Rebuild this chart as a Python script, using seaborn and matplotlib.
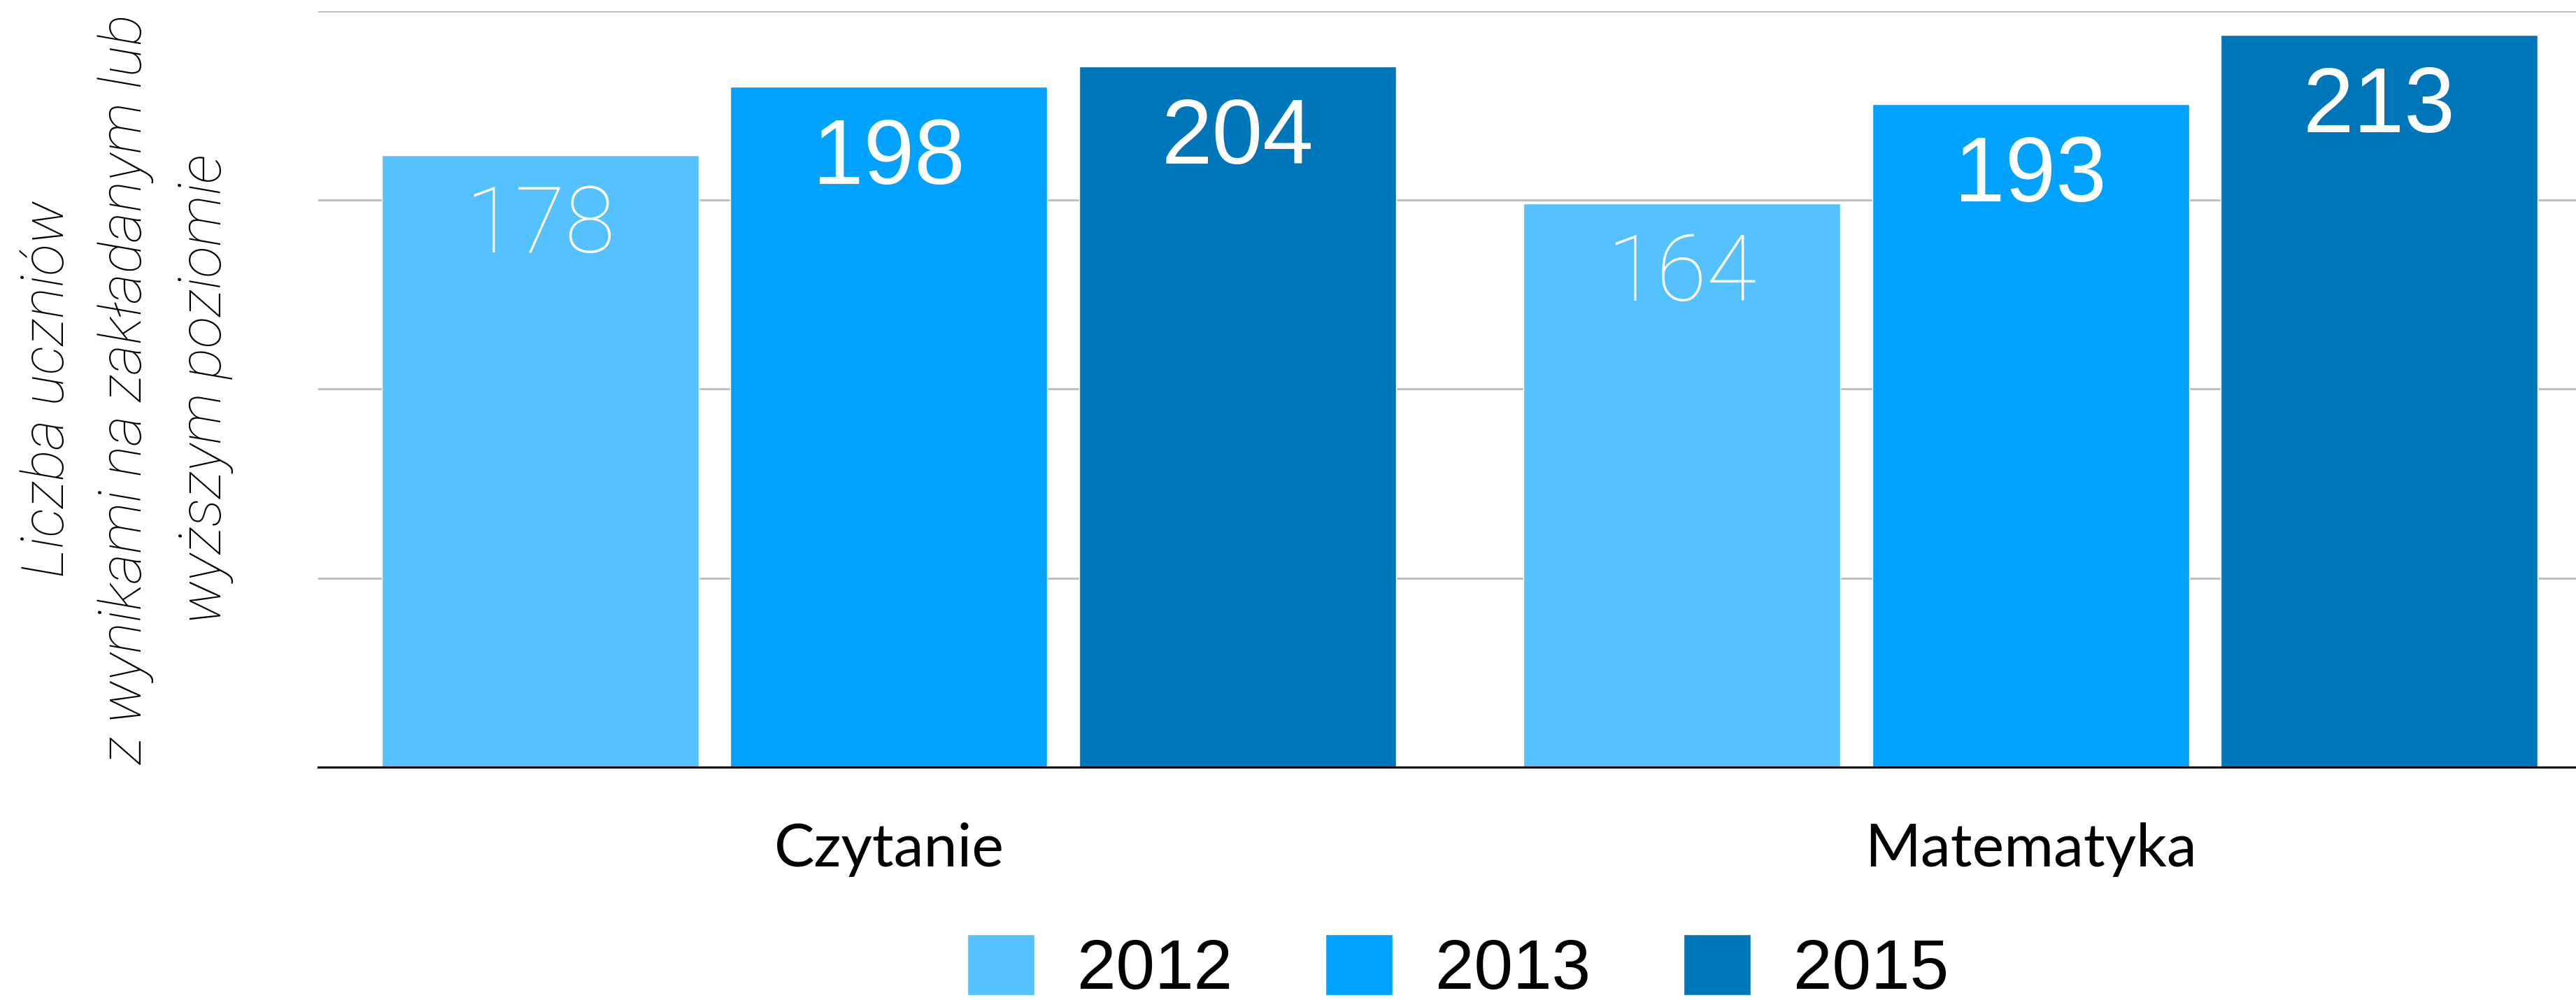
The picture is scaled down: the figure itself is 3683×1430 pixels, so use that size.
import matplotlib
matplotlib.use("Agg")
import matplotlib.pyplot as plt
import pandas as pd
import seaborn as sns

# Data
subjects = ["Czytanie", "Matematyka"]
years = ["2012", "2013", "2015"]
values_2012 = [178, 164]
values_2013 = [198, 193]
values_2015 = [204, 213]
colors = ["#56C1FF", "#00A2FF", "#0076BA"]
y_label = "Liczba uczniów\nz wynikami na zakładanym lub\nwyższym poziomie"

# Long table for seaborn
rows = []
for year, vals in zip(years, [values_2012, values_2013, values_2015]):
    for subj, v in zip(subjects, vals):
        rows.append({"przedmiot": subj, "rok": year, "liczba": v})
df = pd.DataFrame(rows)

sns.set_theme(style="white")
plt.rcParams["font.family"] = ["Lato", "DejaVu Sans"]
plt.rcParams["text.color"] = "black"
plt.rcParams["axes.labelcolor"] = "black"
plt.rcParams["xtick.color"] = "black"

fig = plt.figure(figsize=(36.83, 14.30), dpi=100)
ax = fig.add_axes([0.1235, 0.2329, 0.8863, 0.7559])

sns.barplot(data=df, x="przedmiot", y="liczba", hue="rok", hue_order=years,
            order=subjects, palette=colors, width=0.917, gap=0.092,
            errorbar=None, saturation=1, ax=ax)

ax.set_xlim(-0.5, 1.5)
ax.set_ylim(0, 220)
ax.set_yticks([0, 55, 110, 165, 220])
ax.set_yticklabels([])
ax.set_axisbelow(True)
ax.yaxis.grid(True, color="#BFBFBF", linewidth=2.2)
ax.xaxis.grid(False)
for side in ["left", "right", "top"]:
    ax.spines[side].set_visible(False)
ax.spines["bottom"].set_color("black")
ax.spines["bottom"].set_linewidth(2.2)
ax.tick_params(axis="both", length=0)
ax.tick_params(axis="x", pad=57, labelsize=62, labelcolor="black")
ax.set_xlabel("")

# y label, three centred lines
ax.set_ylabel(y_label, fontsize=60.5, fontstyle="italic", fontweight="light",
              family=["Roboto", "DejaVu Sans"], color="black",
              linespacing=1.52, va="center", ha="center")
ax.yaxis.set_label_coords(-0.0838, 0.5)

# value labels inside the top of each bar
for cont, year in zip(ax.containers, years):
    if year == "2012":
        fam, fw, fs = ["Roboto", "DejaVu Sans"], "light", 94
    else:
        fam, fw, fs = ["Liberation Sans", "DejaVu Sans"], "normal", 94
    for bar in cont:
        h = bar.get_height()
        ax.annotate(f"{h:.0f}", xy=(bar.get_x() + bar.get_width() / 2, h),
                    xytext=(0, -100), textcoords="offset points",
                    ha="center", va="baseline", color="white",
                    fontsize=fs, fontweight=fw, family=fam)

# legend below the chart
handles, labels = ax.get_legend_handles_labels()
ax.get_legend().remove()
fig.legend(handles, labels, loc="center", bbox_to_anchor=(0.566, 0.031),
           ncol=3, frameon=False, prop={"family": ["Liberation Sans"], "size": 72},
           handlelength=0.96, handleheight=0.96, handletextpad=0.61,
           columnspacing=1.33, borderpad=0)

fig.savefig("out.png", dpi=100)
